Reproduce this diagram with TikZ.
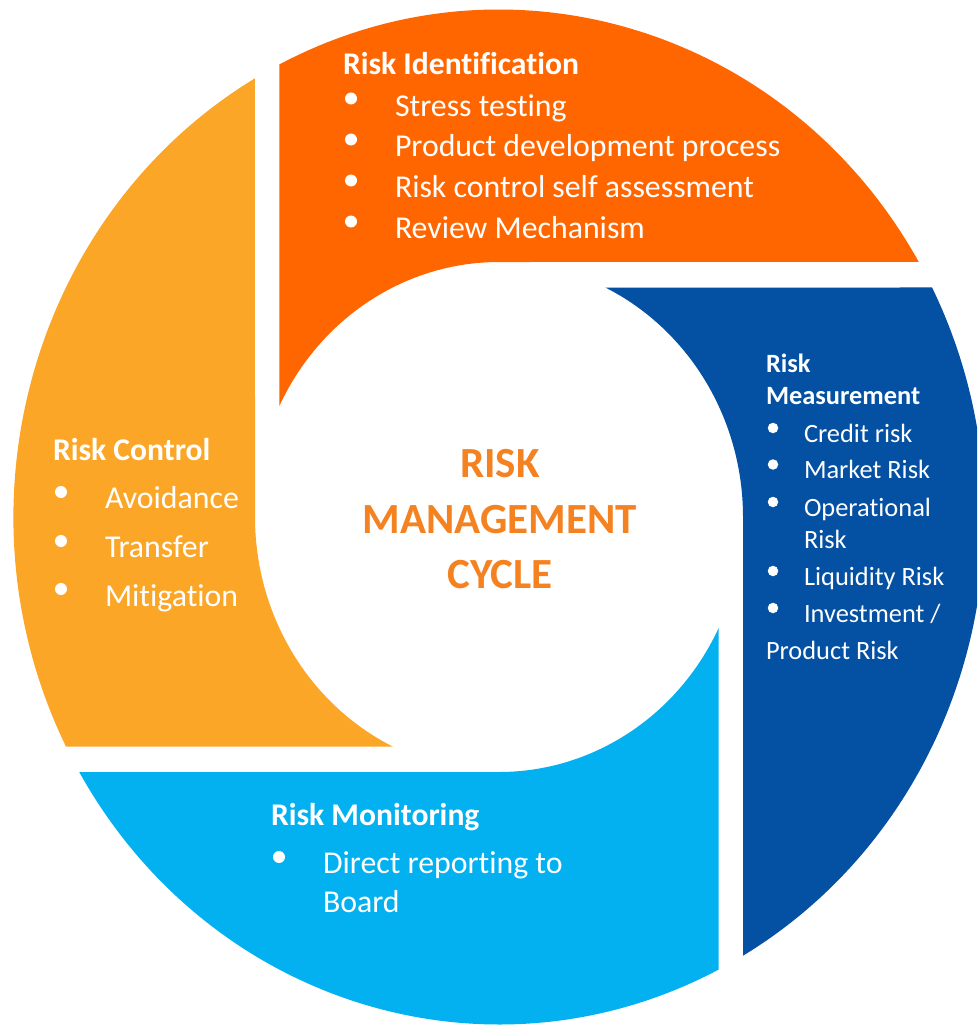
\documentclass[tikz,border=0pt]{standalone}
\usepackage{fontspec}
\setmainfont{Carlito}[Ligatures=NoCommon]
\definecolor{cOrange}{HTML}{FF6600}
\definecolor{cYellow}{HTML}{FCA628}
\definecolor{cBlue}{HTML}{0450A2}
\definecolor{cLight}{HTML}{03B1F0}
\definecolor{cText}{HTML}{F58220}
\begin{document}
\begin{tikzpicture}[x=1pt,y=-1pt,
  lbl/.style={anchor=base west, inner sep=0pt, outer sep=0pt, text=white, font=\fontsize{31.8}{38}\selectfont},
  ttl/.style={lbl, font=\fontsize{31.6}{38}\selectfont\bfseries},
  sml/.style={lbl, font=\fontsize{26.4}{31}\selectfont},
  smlttl/.style={lbl, font=\fontsize{26.4}{31}\selectfont\bfseries},
  bdot/.style={circle, fill=white, inner sep=0pt, minimum size=12pt},
  sdot/.style={circle, fill=white, inner sep=0pt, minimum size=10.5pt},
  ctr/.style={anchor=base, inner sep=0pt, text=cText, font=\fontsize{43}{52}\selectfont\bfseries}]
\useasboundingbox (0,0) rectangle (977,1027);
\clip (0,0) rectangle (977,1027);
\begin{scope}[shift={(499,517)}, x=244pt, y=255pt]
  % Risk Identification (top)
  \fill[cOrange] (116.89:1.99) -- (154.16:1)
    arc[start angle=154.16, end angle=90, x radius=244pt, y radius=255pt]
    -- (30.17:1.99)
    arc[start angle=30.17, end angle=116.89, x radius=485.56pt, y radius=507.45pt] -- cycle;
  % Risk Measurement (right)
  \fill[cBlue] (26.89:1.99) -- (64.16:1)
    arc[start angle=64.16, end angle=0, x radius=244pt, y radius=255pt]
    -- (-59.83:1.99)
    arc[start angle=-59.83, end angle=26.89, x radius=485.56pt, y radius=507.45pt] -- cycle;
  % Risk Monitoring (bottom)
  \fill[cLight] (-63.11:1.99) -- (-25.84:1)
    arc[start angle=-25.84, end angle=-90, x radius=244pt, y radius=255pt]
    -- (-149.83:1.99)
    arc[start angle=-149.83, end angle=-63.11, x radius=485.56pt, y radius=507.45pt] -- cycle;
  % Risk Control (left)
  \fill[cYellow] (-153.11:1.99) -- (-115.84:1)
    arc[start angle=-115.84, end angle=-180, x radius=244pt, y radius=255pt]
    -- (-239.83:1.99)
    arc[start angle=-239.83, end angle=-153.11, x radius=485.56pt, y radius=507.45pt] -- cycle;
\end{scope}
% Risk Identification
\node[ttl] (idT) at (343,75) {Risk Identification};
\node[bdot] (idb1) at (351,98.5) {};
\node[lbl] (id1) at (395,117) {Stress testing};
\node[bdot] (idb2) at (351,139.5) {};
\node[lbl] (id2) at (395,157) {Product development process};
\node[bdot] (idb3) at (351,180.5) {};
\node[lbl] (id3) at (395,197) {Risk control self assessment};
\node[bdot] (idb4) at (351,221.5) {};
\node[lbl] (id4) at (395,238) {Review Mechanism};
% Risk Measurement
\node[smlttl] (meT1) at (766,372) {Risk};
\node[smlttl] (meT2) at (766,404) {Measurement};
\node[sdot] (meb1) at (773,428) {};
\node[sml] (me1) at (804,442) {Credit risk};
\node[sdot] (meb2) at (773,464.5) {};
\node[sml] (me2) at (804,478) {Market Risk};
\node[sdot] (meb3) at (773,502) {};
\node[sml] (me3a) at (804,516) {Operational};
\node[sml] (me3b) at (804,548) {Risk};
\node[sdot] (meb4) at (773,571) {};
\node[sml] (me4) at (804,585) {Liquidity Risk};
\node[sdot] (meb5) at (773,608) {};
\node[sml] (me5a) at (804,622) {Investment /};
\node[sml] (me5b) at (766,659) {Product Risk};
% Risk Monitoring
\node[ttl] (moT) at (271,825) {Risk Monitoring};
\node[bdot] (mob1) at (279,857) {};
\node[lbl] (mo1a) at (323,873) {Direct reporting to};
\node[lbl] (mo1b) at (323,912) {Board};
% Risk Control
\node[ttl] (coT) at (53,460) {Risk Control};
\node[bdot] (cob1) at (61,492) {};
\node[lbl] (co1) at (105,508) {Avoidance};
\node[bdot] (cob2) at (61,541) {};
\node[lbl] (co2) at (105,557) {Transfer};
\node[bdot] (cob3) at (61,589) {};
\node[lbl] (co3) at (105,606) {Mitigation};
% Centre
\node[ctr] (c1) at (500,477) {RISK};
\node[ctr] (c2) at (500,533) {MANAGEMENT};
\node[ctr] (c3) at (500,588) {CYCLE};
\end{tikzpicture}
\end{document}
